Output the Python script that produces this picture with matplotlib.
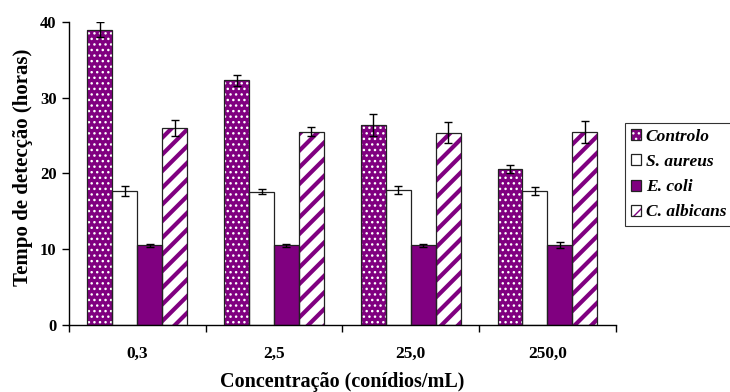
import numpy as np
import matplotlib
matplotlib.use("Agg")
import matplotlib.pyplot as plt

plt.rcParams['font.family'] = ['Liberation Serif', 'DejaVu Serif']
plt.rcParams['font.weight'] = 'bold'

# tempo de detecção (horas) por concentração de conídios
concentracoes = ["0,3", "2,5", "25,0", "250,0"]
series = ["Controlo", "S. aureus", "E. coli", "C. albicans"]

controlo = [39.0, 32.3, 26.4, 20.6]
s_aureus = [17.7, 17.6, 17.8, 17.7]
e_coli = [10.5, 10.5, 10.5, 10.5]
c_albicans = [26.0, 25.5, 25.4, 25.5]

controlo_err = [1.0, 0.7, 1.4, 0.55]
s_aureus_err = [0.7, 0.3, 0.5, 0.5]
e_coli_err = [0.2, 0.15, 0.15, 0.4]
c_albicans_err = [1.0, 0.6, 1.4, 1.45]

PURPLE = "#800080"
EDGE = "#222222"

fig = plt.figure(figsize=(7.3, 3.92), dpi=100)
ax = fig.add_axes([0.0945, 0.171, 0.749, 0.773])

x = np.arange(len(concentracoes))
w = 0.1825
offsets = [-1.5 * w, -0.5 * w, 0.5 * w, 1.5 * w]

# (fill, hatch colour, hatch, hatch linewidth)
styles = [
    (PURPLE, "white", "...", 1.0),
    ("white", "white", "", 1.0),
    (PURPLE, PURPLE, "", 1.0),
    ("white", PURPLE, "//", 3.0),
]
valores = [controlo, s_aureus, e_coli, c_albicans]
erros = [controlo_err, s_aureus_err, e_coli_err, c_albicans_err]

handles = []
for vals, errs, off, (fc, hc, hatch, hlw) in zip(valores, erros, offsets, styles):
    with plt.rc_context({'hatch.linewidth': hlw}):
        fill = ax.bar(x + off, vals, w, color=fc, edgecolor=hc, hatch=hatch,
                      linewidth=0, zorder=2)
        for p in fill:
            if hasattr(p, "set_hatch_linewidth"):
                p.set_hatch_linewidth(hlw)
    outline = ax.bar(x + off, vals, w, fill=False, edgecolor=EDGE,
                     linewidth=0.9, zorder=3)
    ax.errorbar(x + off, vals, yerr=errs, fmt="none", ecolor="black",
                elinewidth=1, capsize=3, capthick=1, zorder=4)
    handles.append((fill[0], outline[0]))

ax.set_xlim(-0.5, 3.5)
ax.set_ylim(0, 40)
ax.set_yticks([0, 10, 20, 30, 40])
ax.tick_params(axis='y', direction='out', length=5, width=1, labelsize=12, pad=4)

# group separators as major ticks, category names at centres
ax.set_xticks(np.arange(-0.5, 4.0, 1.0))
ax.set_xticklabels([])
ax.set_xticks(x, minor=True)
ax.set_xticklabels(concentracoes, minor=True)
ax.tick_params(axis='x', which='major', direction='out', length=5, width=1)
ax.tick_params(axis='x', which='minor', length=0, labelsize=12.5, pad=15)

for s in ["top", "right"]:
    ax.spines[s].set_visible(False)
for s in ["left", "bottom"]:
    ax.spines[s].set_linewidth(1)

ax.set_ylabel("Tempo de detecção (horas)", fontsize=15, fontweight='bold')
ax.yaxis.set_label_coords(-0.066, 0.52)
ax.set_xlabel("Concentração (conídios/mL)", fontsize=14.5, fontweight='bold', labelpad=7)

leg = fig.legend(handles, series, loc="upper left",
                 bbox_to_anchor=(625 / 730, 1 - 123 / 392),
                 prop={'family': ['Liberation Serif'], 'weight': 'bold',
                       'style': 'italic', 'size': 12.5},
                 frameon=True, fancybox=False, edgecolor="black",
                 handlelength=0.6, handleheight=0.6, handletextpad=0.25,
                 labelspacing=0.52, borderpad=0.35, borderaxespad=0)
leg.get_frame().set_linewidth(0.8)

fig.savefig("out.png", dpi=100)
